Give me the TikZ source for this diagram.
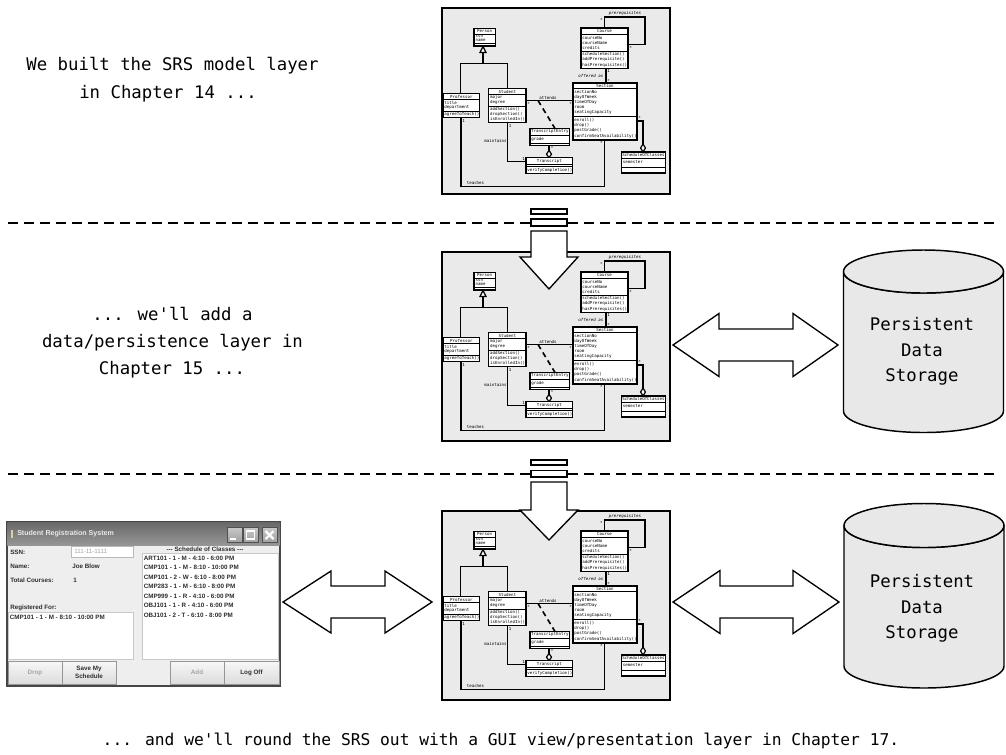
\documentclass[tikz,border=0pt]{standalone}
\usepackage{fontspec}
\setmainfont{DejaVu Sans}
\newfontfamily\monof{DejaVu Sans Mono}
\newfontfamily\guif{Liberation Sans}
\usetikzlibrary{calc}
\definecolor{framegray}{RGB}{234,234,234}
\definecolor{cylgray}{RGB}{232,232,232}
\definecolor{winbody}{RGB}{238,238,238}
\definecolor{guitext}{RGB}{45,45,45}
\definecolor{guidis}{RGB}{165,165,165}
\definecolor{btngray}{RGB}{220,220,220}
\definecolor{btnborder}{RGB}{150,150,150}
\definecolor{winborder}{RGB}{70,70,70}
\definecolor{titletop}{RGB}{105,105,105}
\definecolor{titlebot}{RGB}{150,150,150}
\definecolor{icocol}{RGB}{215,205,170}
\definecolor{titletext}{RGB}{235,235,235}
\definecolor{wbtnborder}{RGB}{80,80,80}
\definecolor{wbtntop}{RGB}{200,200,200}
\definecolor{wbtnbot}{RGB}{160,160,160}
\definecolor{fieldborder}{RGB}{185,185,185}
\definecolor{listborder}{RGB}{200,200,200}
\newcommand\umlfont{\monof\fontsize{3.1}{3.4}\selectfont}
\newcommand\bigfont{\monof\fontsize{13}{15}\selectfont}
\newcommand\botfont{\monof\fontsize{12.2}{14}\selectfont}
\newcommand\guifont{\guif\bfseries\fontsize{4.7}{5.6}\selectfont}
\tikzset{
  frame/.style={draw=black, line width=1.2pt, fill=framegray},
  cbox/.style={draw=black, line width=0.9pt, fill=white},
  csep/.style={draw=black, line width=0.5pt},
  conn/.style={draw=black, line width=0.9pt},
  chead/.style={font=\umlfont, inner sep=0pt, anchor=center},
  ctxt/.style={font=\umlfont, inner sep=0pt, anchor=west},
  clab/.style={font=\umlfont, inner sep=0pt},
  blockarrow/.style={draw=black, line width=1pt, fill=white, line join=miter},
  sepline/.style={draw=black, line width=1.5pt, dash pattern=on 7.5pt off 4.5pt},
  cyl/.style={draw=black, line width=1.1pt, fill=cylgray},
  bigtxt/.style={font=\bigfont, inner sep=0pt, anchor=base},
  guitxt/.style={font=\guifont, text=guitext, inner sep=0pt, anchor=west},
  guibtn/.style={draw=btnborder, line width=0.4pt, top color=white!94!gray, bottom color=btngray},
}
% UML class diagram thumbnail, local pixel coordinates
\newcommand\umlfig[1]{%
  % connectors first
  \draw[conn] (42,45.5) -- (42,56.3);
  \draw[conn] (19.7,86.3) -- (19.7,56.3) -- (66.3,56.3) -- (66.3,81.3);
  \draw[conn] (84.3,93.5) -- (132,93.5);
  \draw[conn, line width=1.2pt, dash pattern=on 4pt off 3pt] (97,93.5) -- (114,121.5);
  \draw[conn] (108,138.5) -- (108,143.5);
  \draw[conn] (66.5,115.3) -- (66.5,154.3) -- (85,154.3);
  \draw[conn] (20,110.5) -- (20,179.2) -- (163.3,179.2) -- (163.3,133);
  \draw[conn] (165,61.5) -- (165,76);
  \draw[conn] (163.5,21) -- (163.5,10) -- (204,10) -- (204,37.7) -- (187,37.7);
  \draw[conn] (196,114) -- (202,114) -- (202,137);
  % Person
  \draw[cbox] (33,21.3) rectangle (54.3,39);
  \draw[csep] (33,27) -- (54.3,27) (33,36.3) -- (54.3,36.3);
  \node[chead] (#1per) at (43.65,24.2) {Person};
  \node[ctxt] (#1per1) at (34.3,29.5) {ssn};
  \node[ctxt] (#1per2) at (34.3,33.8) {name};
  \draw[conn, fill=white] (42,39.4) -- (45,45.5) -- (39,45.5) -- cycle;
  % Professor
  \draw[cbox] (2,86.3) rectangle (38.7,110.5);
  \draw[csep] (2,92.7) -- (38.7,92.7) (2,104) -- (38.7,104);
  \node[chead] (#1prof) at (20.35,89.5) {Professor};
  \node[ctxt] (#1prof1) at (3.2,95.6) {title};
  \node[ctxt] (#1prof2) at (3.2,100.7) {department};
  \node[ctxt] (#1prof3) at (3.2,107.2) {agreeToTeach()};
  % Student
  \draw[cbox] (47.7,81.5) rectangle (85,115.5);
  \draw[csep] (47.7,87.7) -- (85,87.7) (47.7,99) -- (85,99);
  \node[chead] (#1stu) at (66.3,84.6) {Student};
  \node[ctxt] (#1stu1) at (48.9,90.6) {major};
  \node[ctxt] (#1stu2) at (48.9,95.6) {degree};
  \node[ctxt] (#1stu3) at (48.9,102) {addSection()};
  \node[ctxt] (#1stu4) at (48.9,107.1) {dropSection()};
  \node[ctxt] (#1stu5) at (48.9,112.2) {isEnrolledIn()};
  % Course
  \draw[cbox] (140,21) rectangle (187,61.5);
  \draw[csep] (140,27.5) -- (187,27.5) (140,44) -- (187,44);
  \node[chead] (#1crs) at (163.5,24.3) {Course};
  \node[ctxt] (#1crs1) at (141.1,30.6) {courseNo};
  \node[ctxt] (#1crs2) at (141.1,35.8) {courseName};
  \node[ctxt] (#1crs3) at (141.1,41) {credits};
  \node[ctxt] (#1crs4) at (141.1,47.3) {scheduleSection()};
  \node[ctxt] (#1crs5) at (141.1,52.6) {addPrerequisite()};
  \node[ctxt] (#1crs6) at (141.1,57.9) {hasPrerequisites()};
  % Section
  \draw[cbox] (132,76) rectangle (196,133);
  \draw[csep] (132,81.7) -- (196,81.7) (132,109.7) -- (196,109.7);
  \node[chead] (#1sec) at (164,78.9) {Section};
  \node[ctxt] (#1sec1) at (133.1,84.6) {sectionNo};
  \node[ctxt] (#1sec2) at (133.1,89.9) {dayOfWeek};
  \node[ctxt] (#1sec3) at (133.1,95.2) {timeOfDay};
  \node[ctxt] (#1sec4) at (133.1,100.5) {room};
  \node[ctxt] (#1sec5) at (133.1,105.8) {seatingCapacity};
  \node[ctxt] (#1sec6) at (133.1,113) {enroll()};
  \node[ctxt] (#1sec7) at (133.1,118.3) {drop()};
  \node[ctxt] (#1sec8) at (133.1,123.6) {postGrade()};
  \node[ctxt] (#1sec9) at (133.1,128.9) {confirmSeatAvailability()};
  % TranscriptEntry
  \draw[cbox] (89,121.5) rectangle (128.7,138.5);
  \draw[csep] (89,128) -- (128.7,128) (89,136) -- (128.7,136);
  \node[chead] (#1te) at (108.85,124.8) {TranscriptEntry};
  \node[ctxt] (#1te1) at (90.2,132.1) {grade};
  % aggregation diamond
  \draw[conn, fill=white] (108,143.5) -- (110.5,147.1) -- (108,150.7) -- (105.5,147.1) -- cycle;
  % Transcript
  \draw[cbox] (85,150.7) rectangle (131.6,166.8);
  \draw[csep] (85,157.3) -- (131.6,157.3) (85,159.8) -- (131.6,159.8);
  \node[chead] (#1tr) at (108.3,154) {Transcript};
  \node[ctxt] (#1tr1) at (86.2,163.3) {verifyCompletion()};
  % ScheduleOfClasses
  \draw[conn, fill=white] (202,137) -- (204.4,141) -- (202,145) -- (199.6,141) -- cycle;
  \draw[cbox] (180.5,145) rectangle (224.5,166);
  \draw[csep] (180.5,151) -- (224.5,151) (180.5,160) -- (224.5,160);
  \node[chead] (#1soc) at (202.5,148) {ScheduleOfClasses};
  \node[ctxt] (#1soc1) at (181.7,155) {semester};
  % association labels and multiplicities
  \node[clab] (#1l1) at (107,90.8) {attends};
  \node[clab] (#1l2) at (87.5,96.8) {*};
  \node[clab] (#1l3) at (129.5,96.8) {*};
  \node[clab, anchor=east] (#1l4) at (162.5,69) {\itshape offered as};
  \node[clab] (#1l5) at (167.6,64.4) {1};
  \node[clab] (#1l6) at (167.6,73.6) {*};
  \node[clab] (#1l7) at (184,6.6) {\itshape prerequisites};
  \node[clab] (#1l8) at (160.3,13.4) {*};
  \node[clab] (#1l8b) at (189.6,40.8) {*};
  \node[clab] (#1l9) at (54.5,133.7) {maintains};
  \node[clab] (#1l10) at (69.2,118.8) {1};
  \node[clab] (#1l11) at (82.6,152) {1};
  \node[clab] (#1l12) at (111,141) {*};
  \node[clab] (#1l13) at (34.5,176.2) {teaches};
  \node[clab] (#1l14) at (22.6,114) {1};
  \node[clab] (#1l15) at (160.3,136.2) {*};
  \node[clab] (#1l16) at (198.6,111.2) {*};
}
\newcommand\cylinderat[5]{% name, cx, ytop(center of top ellipse), ybottom(center of bottom arc), y radius
  \path[cyl] ($(#2,#3)+(-80,0)$) -- ($(#2,#4)+(-80,0)$)
     arc[start angle=180, end angle=0, x radius=80, y radius=#5]
     -- ($(#2,#3)+(80,0)$)
     arc[start angle=0, end angle=180, x radius=80, y radius=#5] -- cycle;
  \draw[cyl] (#2,#3) ellipse [x radius=80, y radius=#5];
  \coordinate (#1) at (#2,#3);
}
\newcommand\doublearrow[6]{% x-tipL, x-baseL, x-baseR, x-tipR, ycenter, head half
  \draw[blockarrow] (#1,#5) -- (#2,#5-#6) -- (#2,#5-16) -- (#3,#5-16) -- (#3,#5-#6)
    -- (#4,#5) -- (#3,#5+#6) -- (#3,#5+16) -- (#2,#5+16) -- (#2,#5+#6) -- cycle;
}
\begin{document}
\begin{tikzpicture}[x=0.75pt,y=-0.75pt]
\useasboundingbox (0,0) rectangle (1006,754);
\fill[white] (0,0) rectangle (1006,754);

% ---------- separators ----------
\draw[sepline] (8,223) -- (1000,223);
\draw[sepline] (8,474) -- (1000,474);

% ---------- frames with UML ----------
\node[frame, minimum width=228*0.75pt, minimum height=186*0.75pt, inner sep=0pt, anchor=north west] (f1) at (441,7) {};
\begin{scope}[shift={(441,7)}] \umlfig{a} \end{scope}
\node[frame, minimum width=228*0.75pt, minimum height=189*0.75pt, inner sep=0pt, anchor=north west] (f2) at (441,251) {};
\begin{scope}[shift={(441,251)}] \umlfig{b} \end{scope}
\node[frame, minimum width=228*0.75pt, minimum height=189*0.75pt, inner sep=0pt, anchor=north west] (f3) at (441,510) {};
\begin{scope}[shift={(441,510)}] \umlfig{c} \end{scope}

% ---------- vertical arrows ----------
\draw[blockarrow] (531,209) rectangle (567,214);
\draw[blockarrow] (531,219) rectangle (567,226);
\draw[blockarrow] (531,231) -- (567,231) -- (567,257) -- (578,257) -- (549,289) -- (520,257) -- (531,257) -- cycle;
\draw[blockarrow] (531,460) rectangle (567,465);
\draw[blockarrow] (531,470.5) rectangle (567,477);
\draw[blockarrow] (531,482) -- (567,482) -- (567,510) -- (578,510) -- (549,540) -- (520,510) -- (531,510) -- cycle;

% ---------- cylinders ----------
\cylinderat{db1}{923.5}{271.5}{411}{21.5}
\node[bigtxt] (db1a) at (922,330) {Persistent};
\node[bigtxt] (db1b) at (922,356) {Data};
\node[bigtxt] (db1c) at (922,381) {Storage};
\cylinderat{db2}{924}{525.5}{666}{22}
\node[bigtxt] (db2a) at (922,587) {Persistent};
\node[bigtxt] (db2b) at (922,613) {Data};
\node[bigtxt] (db2c) at (922,638) {Storage};

% ---------- horizontal double arrows ----------
\doublearrow{673}{719}{793}{838}{345}{31.5}
\doublearrow{673}{720}{793}{839}{602}{31.5}
\doublearrow{283}{331}{385}{432}{602}{31}

% ---------- left texts ----------
\node[bigtxt] (t1a) at (172.5,70) {We built the SRS model layer};
\node[bigtxt] (t1b) at (168,98) {in Chapter 14 ...};
\node[bigtxt] (t2a) at (172.5,320) {... we'll add a};
\node[bigtxt] (t2b) at (172.5,347) {data/persistence layer in};
\node[bigtxt] (t2c) at (172,374) {Chapter 15 ...};
\node[font=\botfont, inner sep=0pt, anchor=base] (t3) at (501,745) {... and we'll round the SRS out with a GUI view/presentation layer in Chapter 17.};

% ---------- GUI window ----------
\draw[draw=winborder, line width=0.8pt, fill=winbody] (7,522) rectangle (280,686);
\shade[top color=titletop, bottom color=titlebot] (7.4,522.4) rectangle (279.6,545);
\fill[icocol] (11,530) rectangle (13,538);
\node[font=\guif\bfseries\fontsize{5.3}{6}\selectfont, text=titletext, inner sep=0pt, anchor=west] (title) at (17,533.5) {Student Registration System};
\foreach \bx in {227,243,262}{
  \draw[draw=wbtnborder, line width=0.5pt, top color=wbtntop, bottom color=wbtnbot] (\bx,527.5) rectangle ++(15,15);
}
\draw[white, line width=1.2pt] (230,539) -- (236,539);
\draw[white, line width=1pt] (246.5,531) rectangle (254.5,539);
\draw[white, line width=1.6pt] (265.5,531) -- (273.5,539) (265.5,539) -- (273.5,531);

\node[guitxt] (lssn) at (10,552) {SSN:};
\node[guitxt] (lname) at (10,566.5) {Name:};
\node[guitxt] (ltot) at (10,580) {Total Courses:};
\node[guitxt] (lreg) at (10,608) {Registered For:};
\draw[draw=fieldborder, line width=0.4pt, fill=white] (71,546) rectangle (133,557.5);
\node[guitxt, text=guidis, font=\guif\fontsize{4.7}{5.6}\selectfont] (vssn) at (74,551.8) {111-11-1111};
\node[guitxt] (vname) at (72,566.5) {Joe Blow};
\node[guitxt] (vtot) at (73,580) {1};
\draw[draw=listborder, line width=0.4pt, fill=white] (8,612) rectangle (133,659);
\node[guitxt] (reg1) at (9.5,617.5) {CMP101 - 1 - M - 8:10 - 10:00 PM};
\node[guitxt, anchor=center] (shead) at (205,549) {--- Schedule of Classes ---};
\draw[draw=listborder, line width=0.4pt, fill=white] (142,553) rectangle (278,659);
\node[guitxt] (s1) at (143.5,558.3) {ART101 - 1 - M - 4:10 - 6:00 PM};
\node[guitxt] (s2) at (143.5,567.7) {CMP101 - 1 - M - 8:10 - 10:00 PM};
\node[guitxt] (s3) at (143.5,577.3) {CMP101 - 2 - W - 6:10 - 8:00 PM};
\node[guitxt] (s4) at (143.5,586.7) {CMP283 - 1 - M - 6:10 - 8:00 PM};
\node[guitxt] (s5) at (143.5,596.7) {CMP999 - 1 - R - 4:10 - 6:00 PM};
\node[guitxt] (s6) at (143.5,605.7) {OBJ101 - 1 - R - 4:10 - 6:00 PM};
\node[guitxt] (s7) at (143.5,615) {OBJ101 - 2 - T - 6:10 - 8:00 PM};
\draw[guibtn] (8,661) rectangle (62,684);
\draw[guibtn] (62,661) rectangle (116,684);
\draw[guibtn] (170,661) rectangle (224,684);
\draw[guibtn] (224,661) rectangle (279,684);
\node[guitxt, anchor=center, text=guidis] (bdrop) at (35,672.5) {Drop};
\node[guitxt, anchor=center, align=center] (bsave) at (89,672.5) {Save My\\Schedule};
\node[guitxt, anchor=center, text=guidis] (badd) at (197,672.5) {Add};
\node[guitxt, anchor=center] (blog) at (251.5,672.5) {Log Off};
\end{tikzpicture}
\end{document}
